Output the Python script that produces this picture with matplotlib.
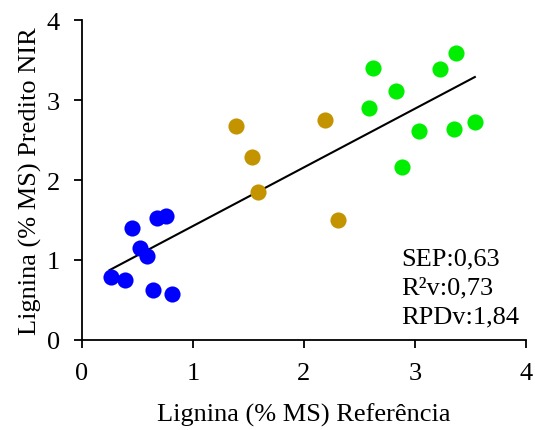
import numpy as np
import matplotlib.pyplot as plt

plt.rcParams['font.family'] = ['Liberation Serif', 'DejaVu Serif']

# blue group
xBlue = [0.26, 0.39, 0.45, 0.52, 0.59, 0.68, 0.76, 0.64, 0.81]
yBlue = [0.79, 0.75, 1.40, 1.15, 1.05, 1.52, 1.55, 0.63, 0.57]
# gold group
xGold = [1.39, 1.53, 1.59, 2.19, 2.31]
yGold = [2.67, 2.29, 1.85, 2.75, 1.50]
# green group
xGreen = [2.62, 2.59, 2.83, 2.88, 3.04, 3.23, 3.37, 3.35, 3.54]
yGreen = [3.40, 2.90, 3.11, 2.16, 2.61, 3.39, 3.59, 2.64, 2.72]

# trend line
lineX = [0.25, 3.54]
slope = 0.734
intercept = 0.69

stats = ['SEP:0,63', 'R²v:0,73', 'RPDv:1,84']

fig = plt.figure(figsize=(5.35, 4.31), dpi=100)
ax = fig.add_axes([0.153, 0.209, 0.830, 0.742])

ax.scatter(xBlue, yBlue, s=135, color='#0000FF', linewidths=0, zorder=3)
ax.scatter(xGold, yGold, s=135, color='#C39400', linewidths=0, zorder=3)
ax.scatter(xGreen, yGreen, s=135, color='#00EE00', linewidths=0, zorder=3)

lx = np.array(lineX)
ax.plot(lx, slope * lx + intercept, color='black', linewidth=1.5, zorder=2)

ax.set_xlim(0, 4)
ax.set_ylim(0, 4)
ax.set_xticks([0, 1, 2, 3, 4])
ax.set_yticks([0, 1, 2, 3, 4])
ax.spines['top'].set_visible(False)
ax.spines['right'].set_visible(False)
ax.spines['left'].set_linewidth(1.3)
ax.spines['bottom'].set_linewidth(1.3)
ax.tick_params(direction='out', length=6, width=1.3, labelsize=19, pad=10)

ax.set_xlabel('Lignina (% MS) Referência', fontsize=19, labelpad=13)
ax.set_ylabel('Lignina (% MS) Predito NIR', fontsize=19, labelpad=3)

for i, s in enumerate(stats):
    ax.text(2.88, 0.94 - i * 0.3625, s, fontsize=19, va='baseline', ha='left')

fig.savefig('out.png', dpi=100)
